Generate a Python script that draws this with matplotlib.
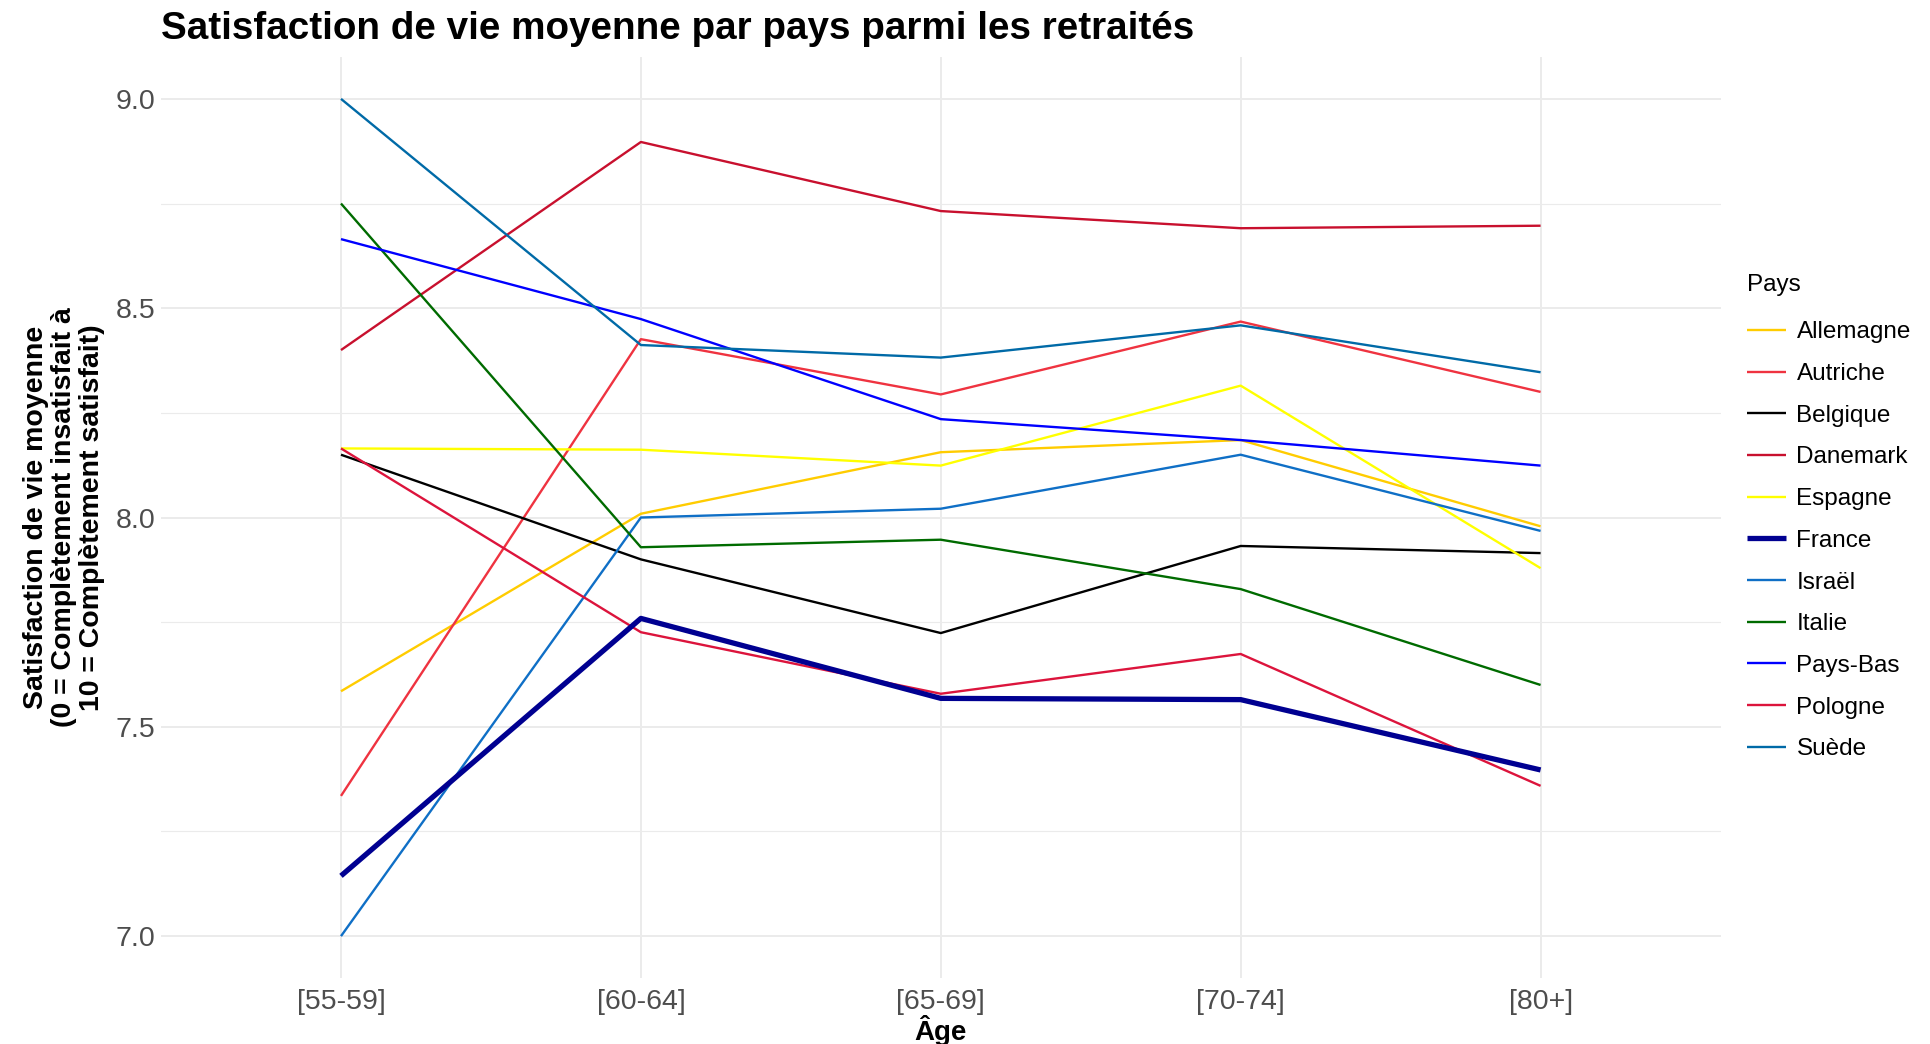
import numpy as np
import matplotlib
matplotlib.use("Agg")
import matplotlib.pyplot as plt
from matplotlib.ticker import MultipleLocator, FormatStrFormatter

plt.rcParams['font.family'] = ['Liberation Sans', 'DejaVu Sans']

# Data
ages = ["[55-59]", "[60-64]", "[65-69]", "[70-74]", "[80+]"]

allemagne = [7.585, 8.009, 8.156, 8.185, 7.979]
autriche = [7.335, 8.426, 8.294, 8.468, 8.300]
belgique = [8.150, 7.900, 7.724, 7.932, 7.915]
danemark = [8.400, 8.897, 8.732, 8.691, 8.697]
espagne = [8.165, 8.162, 8.124, 8.315, 7.879]
france = [7.144, 7.759, 7.568, 7.565, 7.397]
israel = [7.000, 8.000, 8.021, 8.150, 7.968]
italie = [8.750, 7.929, 7.947, 7.829, 7.600]
pays_bas = [8.665, 8.474, 8.235, 8.185, 8.124]
pologne = [8.165, 7.726, 7.579, 7.674, 7.359]
suede = [9.000, 8.412, 8.382, 8.459, 8.347]

countries = ["Allemagne", "Autriche", "Belgique", "Danemark", "Espagne", "France",
             "Israël", "Italie", "Pays-Bas", "Pologne", "Suède"]
values = [allemagne, autriche, belgique, danemark, espagne, france,
          israel, italie, pays_bas, pologne, suede]
colors = ["#FFCC00", "#EF3340", "#000000", "#C8102E", "#FFFF00", "#000091",
          "#0F6FC6", "#006B00", "#0000FF", "#DC143C", "#006AA7"]

fig = plt.figure(figsize=(19.31, 10.44), dpi=100)
ax = fig.add_axes([0.0834, 0.0632, 0.8076, 0.8822])

x = np.arange(len(ages))
for name, vals, col in zip(countries, values, colors):
    lw = 3.8 if name == "France" else 1.7
    ax.plot(x, vals, color=col, lw=lw, label=name, solid_capstyle="butt", zorder=3 if name == "France" else 2)

ax.set_xlim(-0.6, len(ages) - 1 + 0.6)
ax.set_ylim(6.9, 9.1)
ax.set_xticks(x)
ax.set_xticklabels(ages)
ax.yaxis.set_major_locator(MultipleLocator(0.5))
ax.yaxis.set_minor_locator(MultipleLocator(0.25))
ax.yaxis.set_major_formatter(FormatStrFormatter("%.1f"))

ax.grid(True, which="major", color="#EBEBEB", lw=1.4)
ax.grid(True, which="minor", axis="y", color="#EBEBEB", lw=0.8)
ax.set_axisbelow(True)
for s in ax.spines.values():
    s.set_visible(False)
ax.tick_params(which="both", length=0)
ax.tick_params(axis="both", labelsize=20.5, labelcolor="#4D4D4D")
ax.tick_params(axis="y", pad=4)
ax.tick_params(axis="x", pad=8)

ax.set_xlabel("Âge", fontsize=20, fontweight="bold", labelpad=0)
ax.set_ylabel("Satisfaction de vie moyenne\n(0 = Complètement insatisfait à\n10 = Complètement satisfait)",
              fontsize=20.5, fontweight="bold", labelpad=8, linespacing=1.1)

fig.text(0.0834, 0.972, "Satisfaction de vie moyenne par pays parmi les retraités",
         fontsize=27.8, fontweight="bold", ha="left", va="center")

leg = ax.legend(loc="upper left", bbox_to_anchor=(0.8995, 0.7465), bbox_transform=fig.transFigure,
                frameon=False, fontsize=17.5, title="Pays", title_fontsize=17.5,
                handlelength=1.6, handletextpad=0.45, labelspacing=0.81, borderaxespad=0)
leg._legend_box.align = "left"
leg._legend_box.sep = 18

fig.savefig("out.png", dpi=100)
